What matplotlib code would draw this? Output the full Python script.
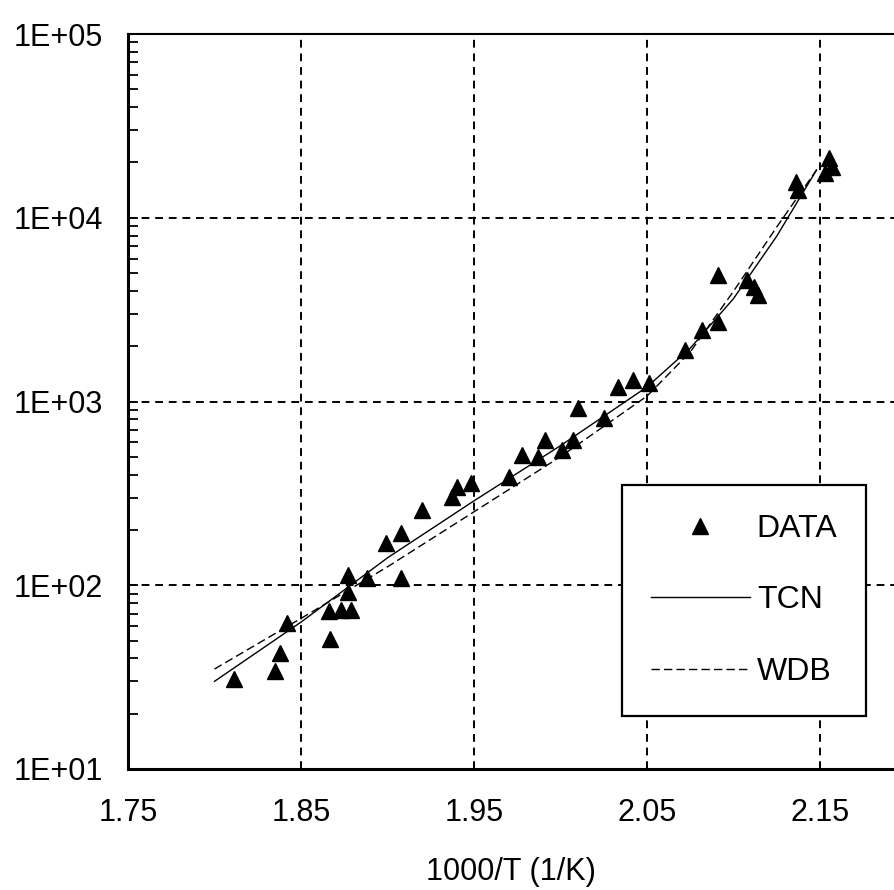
import matplotlib
matplotlib.use('Agg')
from matplotlib import pyplot as plt
from matplotlib.ticker import LogLocator, NullFormatter, FixedLocator
import numpy as np

plt.rcParams['font.family'] = ['Liberation Sans', 'DejaVu Sans']

# measured points (1000/T, value)
x_data = [1.811, 1.835, 1.838, 1.842, 1.866, 1.867, 1.873, 1.879, 1.877, 1.877,
          1.888, 1.899, 1.908, 1.908, 1.920, 1.937, 1.940, 1.948, 1.970, 1.978,
          1.987, 1.991, 2.001, 2.007, 2.010, 2.025, 2.033, 2.042, 2.051, 2.072,
          2.082, 2.091, 2.091, 2.108, 2.112, 2.114, 2.136, 2.137, 2.153, 2.155,
          2.157]
y_data = [31, 34, 43, 62, 72, 51, 73, 73, 92, 114,
          110, 170, 110, 192, 257, 302, 343, 360, 388, 511,
          499, 617, 544, 617, 922, 813, 1200, 1310, 1260, 1900,
          2450, 2710, 4880, 4580, 4200, 3800, 15700, 14200, 17500, 21200,
          19000]

# model curves
x_fit = [1.80, 1.85, 1.90, 1.95, 2.00, 2.05, 2.075, 2.10, 2.125, 2.148]
y_tcn = [30, 63, 141, 288, 575, 1200, 1950, 3630, 7940, 18200]
y_wdb = [35, 66, 126, 251, 501, 1070, 1860, 3980, 8910, 18200]

x_ticks = [1.75, 1.85, 1.95, 2.05, 2.15]
y_ticks = [1e1, 1e2, 1e3, 1e4, 1e5]
y_labels = ['1E+01', '1E+02', '1E+03', '1E+04', '1E+05']

fig = plt.figure(figsize=(8.94, 8.90), dpi=100)
ax = fig.add_axes([128/894, 1 - 769/890, 1 - 128/894, (769 - 34)/890])

ax.set_yscale('log')
ax.set_xlim(1.75, 1.75 + (894 - 128)/1730)
ax.set_ylim(1e1, 1e5)

ax.plot(x_data, y_data, linestyle='none', marker='^', ms=11, color='black', label='DATA')
ax.plot(x_fit, y_tcn, '-', color='black', lw=1.0, label='TCN')
ax.plot(x_fit, y_wdb, color='black', lw=1.0, linestyle=(0, (6, 3)), label='WDB')

ax.xaxis.set_major_locator(FixedLocator(x_ticks))
ax.set_xticklabels(['%.2f' % v for v in x_ticks])
ax.yaxis.set_major_locator(FixedLocator(y_ticks))
ax.set_yticklabels(y_labels)
ax.yaxis.set_minor_locator(LogLocator(base=10, subs=np.arange(2, 10)))
ax.yaxis.set_minor_formatter(NullFormatter())

ax.grid(True, which='major', color='black', linestyle=(0, (4, 3)), lw=1.4)
ax.tick_params(axis='y', which='both', direction='in', length=7, width=1.3,
               labelsize=22, pad=18)
ax.tick_params(axis='x', which='both', direction='in', length=5, width=1.3,
               labelsize=22, pad=21)

ax.spines['right'].set_visible(False)
ax.spines['left'].set_linewidth(2.2)
ax.spines['bottom'].set_linewidth(2.2)
ax.spines['top'].set_linewidth(1.5)

ax.set_xlabel('1000/T (1/K)', fontsize=22, labelpad=21)

leg = ax.legend(loc='upper left', bbox_to_anchor=(622/894, 1 - 485/890),
                bbox_transform=fig.transFigure, numpoints=1, fontsize=23,
                handlelength=3.1, labelspacing=1.3, handletextpad=0.22,
                borderpad=0.9, borderaxespad=0, fancybox=False, framealpha=1,
                edgecolor='black')
leg.get_frame().set_linewidth(1.6)

fig.savefig('out.png', dpi=100)
